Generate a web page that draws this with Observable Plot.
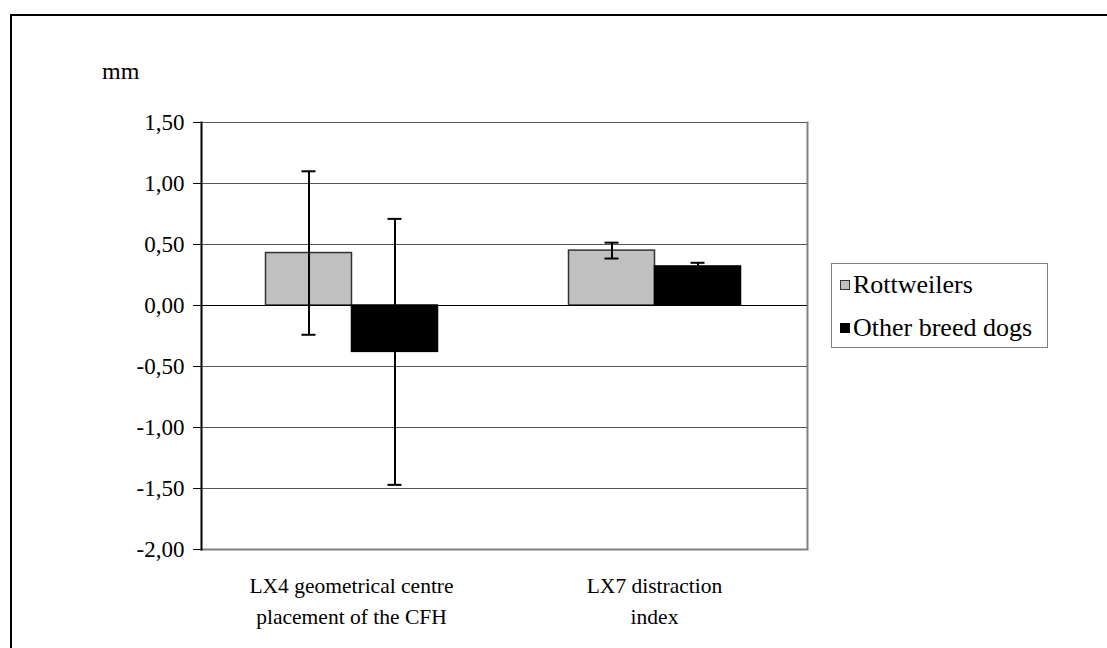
<!DOCTYPE html>
<html>
<head>
<meta charset="utf-8">
<script src="https://cdn.jsdelivr.net/npm/d3@7"></script>
<script src="https://cdn.jsdelivr.net/npm/@observablehq/plot@0.6"></script>
<style>
  html, body { margin: 0; padding: 0; background: #fff; }
  #wrap { position: relative; width: 1107px; height: 648px; overflow: hidden; font-family: "Liberation Serif", "Tinos", "Times New Roman", Times, "DejaVu Serif", serif; color: #000; }
  #outline { position: absolute; left: 10px; top: 14px; width: 1200px; height: 800px; border-left: 2px solid #000; border-top: 2px solid #000; }
  #unit { position: absolute; left: 102px; top: 58px; font-size: 24px; }
  #legend { position: absolute; left: 831px; top: 263px; width: 215px; height: 83px; border: 1.5px solid #808080; font-size: 26px; }
  .row { position: absolute; left: 8px; display: flex; align-items: center; white-space: nowrap; }
  .sw { width: 10px; height: 10px; margin-right: 3px; border: 1.5px solid #333; box-sizing: border-box; }
  #chart { position: absolute; left: 0; top: 0; }
</style>
</head>
<body>
<div id="wrap">
  <div id="outline"></div>
  <div id="unit">mm</div>
  <div id="chart"></div>
  <div id="legend"></div>
</div>
<script>
// Measurement groups and the two dog cohorts
const categories = ["LX4", "LX7"];
const categoryLabels = ["LX4 geometrical centre\nplacement of the CFH", "LX7 distraction\nindex"];
const series = ["Rottweilers", "Other breed dogs"];
const seriesColors = ["#c0c0c0", "#000000"];

// Mean values (mm) per group, ordered as series
const meanLX4 = [0.43, -0.38];
const meanLX7 = [0.45, 0.32];
// Standard deviations per group, ordered as series
const sdLX4 = [0.67, 1.09];
const sdLX7 = [0.065, 0.03];

const yTicks = [-2, -1.5, -1, -0.5, 0, 0.5, 1, 1.5];
const serif = "'Liberation Serif', Tinos, 'Times New Roman', Times, 'DejaVu Serif', serif";

const rows = [];
categories.forEach((c, i) => {
  const means = i === 0 ? meanLX4 : meanLX7;
  const sds = i === 0 ? sdLX4 : sdLX7;
  series.forEach((s, j) => {
    rows.push({cat: c, series: s, value: means[j], lo: means[j] - sds[j], hi: means[j] + sds[j]});
  });
});
const labelRows = categories.map((c, i) => ({cat: c, label: categoryLabels[i]}));
const fmt = d => d.toFixed(2).replace(".", ",");

const chart = Plot.plot({
  width: 1107,
  height: 648,
  marginLeft: 200,
  marginRight: 300,
  marginTop: 122,
  marginBottom: 99,
  style: {fontFamily: serif, fontSize: "23px", background: "transparent", color: "#000"},
  fx: {domain: categories, padding: 0, axis: null},
  x: {domain: series, paddingInner: 0, paddingOuter: 0.75, axis: null},
  y: {domain: [-2, 1.5], axis: null},
  color: {domain: series, range: seriesColors},
  marks: [
    Plot.ruleY(yTicks.filter(t => t !== 0 && t !== -2), {stroke: "#555", strokeWidth: 1.2}),
    Plot.ruleY([-2], {stroke: "#808080", strokeWidth: 2}),
    Plot.frame({anchor: "right", facetAnchor: "right", stroke: "#808080", strokeWidth: 2}),
    Plot.barY(rows, {fx: "cat", x: "series", y: "value", fill: "series", stroke: d => d.series === series[0] ? "#333" : "#000", strokeWidth: 1.5, dx: -1.5}),
    Plot.ruleY([0], {stroke: "#000", strokeWidth: 1.2}),
    Plot.ruleX(rows, {fx: "cat", x: "series", y1: "lo", y2: "hi", stroke: "#000", strokeWidth: 2, dx: -1.5}),
    Plot.tickY(rows, {fx: "cat", x: "series", y: "hi", stroke: "#000", strokeWidth: 2, insetLeft: 36, insetRight: 36, dx: -1.5}),
    Plot.tickY(rows, {fx: "cat", x: "series", y: "lo", stroke: "#000", strokeWidth: 2, insetLeft: 36, insetRight: 36, dx: -1.5}),
    Plot.frame({anchor: "left", facetAnchor: "left", stroke: "#000", strokeWidth: 2}),
    Plot.axisY(yTicks, {facetAnchor: "left", anchor: "left", tickSize: 8, tickPadding: 9, tickFormat: fmt, stroke: "#000", fontSize: 23, fontVariant: "normal"}),
    Plot.text(labelRows, {fx: "cat", text: "label", frameAnchor: "bottom", lineAnchor: "top", dy: 21, dx: -1.5, lineHeight: 1.45, fontSize: 21.5})
  ]
});
chart.querySelectorAll("text").forEach(t => t.setAttribute("font-family", serif));
document.getElementById("chart").appendChild(chart);

// Legend entries
const legend = document.getElementById("legend");
series.forEach((s, j) => {
  const row = document.createElement("div");
  row.className = "row";
  row.style.top = (j === 0 ? 6 : 49) + "px";
  const sw = document.createElement("span");
  sw.className = "sw";
  sw.style.background = seriesColors[j];
  if (j === 1) sw.style.borderColor = "#000";
  const tx = document.createElement("span");
  tx.textContent = s;
  row.appendChild(sw);
  row.appendChild(tx);
  legend.appendChild(row);
});
</script>
</body>
</html>
